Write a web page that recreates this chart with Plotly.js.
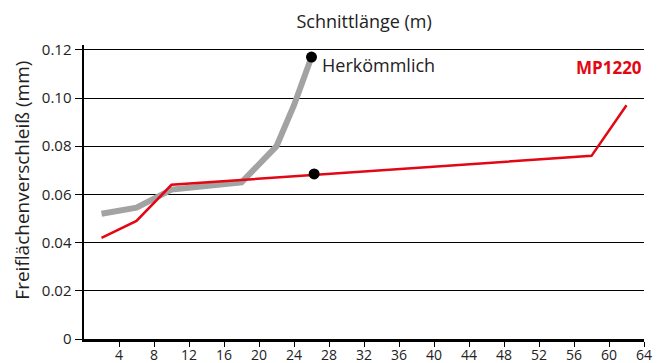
<!DOCTYPE html>
<html>
<head>
<meta charset="utf-8">
<script src="https://cdn.plot.ly/plotly-3.0.1.min.js"></script>
<style>html,body{margin:0;padding:0;background:#fff;}#chart{width:662px;height:363px;}</style>
</head>
<body>
<div id="chart"></div>
<script>
// Data
const convX = [2, 6, 10, 18, 22, 24, 26];
const convY = [0.052, 0.0545, 0.062, 0.065, 0.080, 0.097, 0.117];
const mpX = [2, 6, 10, 58, 62];
const mpY = [0.042, 0.049, 0.064, 0.076, 0.097];
const dotX = [26, 26.3];
const dotY = [0.117, 0.0685];
const xTicks = [4, 8, 12, 16, 20, 24, 28, 32, 36, 40, 44, 48, 52, 56, 60, 64];
const yTicks = [0, 0.02, 0.04, 0.06, 0.08, 0.10, 0.12];
const yTickText = ["0", "0.02", "0.04", "0.06", "0.08", "0.10", "0.12"];
const labelConv = "Herkömmlich";
const labelMP = "MP1220";
const yTitle = "Freiflächenverschleiß (mm)";

const FONT = "'Open Sans', Roboto, 'DejaVu Sans', sans-serif";
const traces = [
  {x: convX, y: convY, mode: "lines", line: {color: "#a3a3a3", width: 6}, hoverinfo: "skip"},
  {x: mpX, y: mpY, mode: "lines", line: {color: "#e30613", width: 2.5}, hoverinfo: "skip"},
  {x: dotX, y: dotY, mode: "markers", marker: {color: "#000", size: 11}, hoverinfo: "skip"}
];
const layout = {
  width: 662, height: 363,
  margin: {l: 84, r: 18, t: 45, b: 23.5, pad: 0},
  paper_bgcolor: "#fff", plot_bgcolor: "#fff",
  showlegend: false,
  font: {family: FONT, color: "#222", size: 15},
  title: {text: "Schnittlänge (m)", font: {family: FONT, size: 18, color: "#222"}, x: 0.55, xanchor: "center", y: 0.94, yanchor: "middle"},
  xaxis: {
    range: [0, 64], tickvals: xTicks, ticktext: xTicks.map(String),
    showgrid: false, zeroline: false, showline: true, linecolor: "#000", linewidth: 2.5,
    ticks: "outside", ticklen: 5, tickcolor: "#000", tickwidth: 1,
    ticklabelstandoff: -3,
    tickfont: {family: FONT, size: 14, color: "#222"}
  },
  yaxis: {
    range: [0, 0.122], tickvals: yTicks, ticktext: yTickText,
    showgrid: true, gridcolor: "#000", gridwidth: 1, zeroline: false,
    showline: true, linecolor: "#000", linewidth: 2.5,
    ticks: "outside", ticklen: 7, tickcolor: "#000", tickwidth: 1,
    tickfont: {family: FONT, size: 15, color: "#222"}
  },
  annotations: [
    {x: -0.11, y: 0.54, xref: "paper", yref: "paper", text: yTitle, textangle: -90, showarrow: false,
     xanchor: "center", yanchor: "middle", font: {family: FONT, size: 19, color: "#222"}},
    {x: convX[convX.length - 1], y: convY[convY.length - 1], xref: "x", yref: "y", text: labelConv, showarrow: false,
     xanchor: "left", yanchor: "middle", xshift: 8, yshift: -8, font: {family: FONT, size: 18, color: "#222"}},
    {x: 64, y: convY[convY.length - 1], xref: "x", yref: "y", text: "<b>" + labelMP + "</b>", showarrow: false,
     xanchor: "right", yanchor: "middle", yshift: -10, font: {family: FONT, size: 17, color: "#e30613"}}
  ]
};
Plotly.newPlot("chart", traces, layout, {staticPlot: true, displayModeBar: false});
</script>
</body>
</html>
